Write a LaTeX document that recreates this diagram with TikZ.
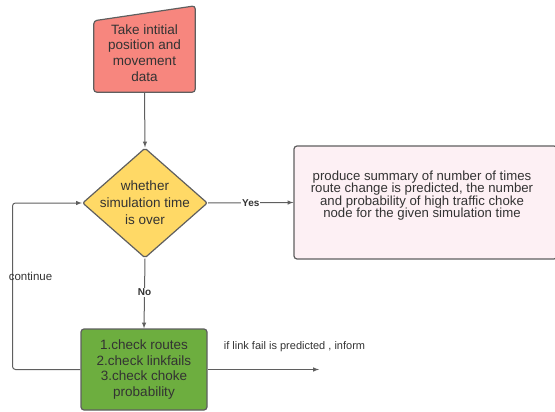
\documentclass[tikz,border=0pt]{standalone}
\usepackage{fontspec}
\setmainfont{Liberation Sans}
\usepackage{tikz}
\usetikzlibrary{shapes.geometric}
\usetikzlibrary{calc}

\definecolor{inputred}{HTML}{F7867E}
\definecolor{decideyellow}{HTML}{FFD966}
\definecolor{summarypink}{HTML}{FDF0F4}
\definecolor{checkgreen}{HTML}{6DAE3F}
\definecolor{linegray}{HTML}{5F5F5F}
\definecolor{textgray}{HTML}{333333}

\begin{document}
\begin{tikzpicture}[x=1pt,y=-1pt,
    box/.style={draw=linegray, line width=1.2pt, rounded corners=3pt, text=textgray, align=center, inner sep=0pt},
    flow/.style={-latex, draw=linegray, line width=1pt},
    yesno/.style={font=\fontsize{10}{12}\selectfont\bfseries, text=textgray, fill=white, inner sep=1pt}]
        \useasboundingbox (0,0) rectangle (555,412);

        \node[inner sep=0pt, minimum width=101pt, minimum height=78pt] (input) at (144.5,53) {};
        \draw[box, fill=inputred] (input.south west) -- (input.south east) -- ($(input.north east)+(0,-8)$) -- ($(input.north west)+(0,7)$) -- cycle;
        \node[align=center, text=textgray, font=\fontsize{13.5}{15.7}\selectfont] at (input) {Take intitial\\position and\\movement\\data};

        \node[diamond, draw=linegray, line width=1.2pt, rounded corners=2pt, fill=decideyellow, minimum width=125pt, minimum height=110pt, inner sep=0pt] (decide) at (145,203) {};
        \node[align=center, text=textgray, font=\fontsize{13.5}{17}\selectfont] at (decide) {whether\\simulation time\\is over};

        \node[box, fill=summarypink, minimum width=263pt, minimum height=113pt] (summary) at (425.5,202.5) {};
        \node[align=center, text=textgray, font=\fontsize{13.2}{12.5}\selectfont] at ($(summary)+(-3.5,-7)$) {produce summary of number of times\\route change is predicted, the number\\and probability of high traffic choke\\node for the given simulation time};

        \node[box, fill=checkgreen, minimum width=126pt, minimum height=81pt, text=black!80, font=\fontsize{13.5}{15.5}\selectfont] (check) at (144,369.5) {1.check routes\\2.check linkfails\\3.check choke\\probability};

        \draw[flow] (input.south) -- (decide.north);
        \draw[flow] (decide.east) -- node[yesno] {Yes} (summary.west);
        \draw[flow] (decide.south) -- node[yesno, pos=0.48] {No} (check.north);

        \coordinate (back) at (12.5,290);
        \draw[flow, rounded corners=3pt] (check.west) -| (back) |- (decide.west);
        \node[text=textgray, font=\fontsize{11.5}{13}\selectfont] (cont) at (30.5,276) {continue};

        \coordinate (out) at (319,369.5);
        \draw[flow] (check.east) -- (out);
        \node[text=textgray, font=\fontsize{11}{13}\selectfont] (inform) at (294.5,347) {if link fail is predicted , inform};
        %\draw[dashed] (check.east) -- (summary.south);
\end{tikzpicture}
\end{document}
